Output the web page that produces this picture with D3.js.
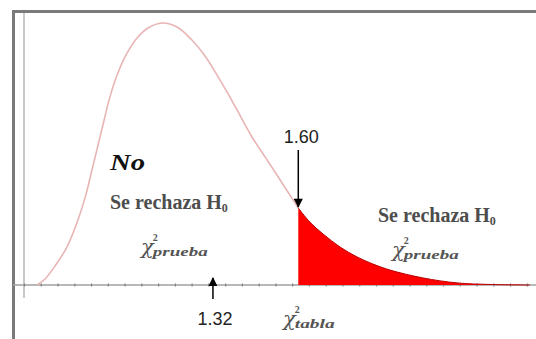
<!DOCTYPE html>
<html>
<head>
<meta charset="utf-8">
<script src="https://cdn.jsdelivr.net/npm/d3@7"></script>
<style>
  body { margin: 0; background: #fff; }
  svg { display: block; }
</style>
</head>
<body>
<svg id="chart" width="536" height="339"></svg>
<script>
// Chi-square density sketch: statistic values on x, relative density on y (peak = 1)
const curveX = [0.743, 0.769, 0.802, 0.841, 0.877, 0.903, 0.923, 0.943, 0.963, 0.982, 1.008, 1.038, 1.071, 1.107, 1.153,
                1.202, 1.251, 1.294, 1.333, 1.366, 1.399, 1.448, 1.491, 1.530, 1.566, 1.600,
                1.638, 1.681, 1.737, 1.793, 1.845, 1.901, 2.009, 2.121, 2.229, 2.360];
const curveY = [0.000, 0.023, 0.073, 0.145, 0.248, 0.344, 0.439, 0.534, 0.630, 0.718, 0.809, 0.885, 0.943, 0.981, 1.000,
                0.985, 0.935, 0.874, 0.802, 0.737, 0.668, 0.565, 0.489, 0.420, 0.355, 0.294,
                0.240, 0.195, 0.145, 0.107, 0.080, 0.057, 0.027, 0.008, 0.002, 0.000];

const testStatistic = 1.32;   // χ² prueba
const criticalValue = 1.60;   // χ² tabla
const xDomain = [0.70, 2.38];
const axisTickStep = 0.055;

const regionLabels = ["No", "Se rechaza", "H", "0"];
const chiSymbol = "χ";
const chiPower = "2";
const chiSubTest = "prueba";
const chiSubTable = "tabla";

const svg = d3.select("#chart");
const W = 536, H = 339;

const x = d3.scaleLinear().domain(xDomain).range([24, 536]);
const y = d3.scaleLinear().domain([0, 1]).range([285, 23]);

const points = curveX.map((v, i) => ({ x: v, y: curveY[i] }));
const leftPart = points.filter(d => d.x <= criticalValue);
const tailPart = points.filter(d => d.x >= criticalValue);
const smooth = d3.curveCatmullRom.alpha(0.5);

// outer frame (top and left edges)
svg.append("path")
  .attr("d", `M13.5,${H} V11.5 H${W}`)
  .attr("fill", "none")
  .attr("stroke", "#7a7a7a")
  .attr("stroke-width", 3);

// vertical axis line
svg.append("line")
  .attr("x1", x(xDomain[0])).attr("x2", x(xDomain[0]))
  .attr("y1", 13).attr("y2", 298)
  .attr("stroke", "#c8c8c8")
  .attr("stroke-width", 2);

// horizontal axis
const axisG = svg.append("g").attr("transform", `translate(0,${y(0)})`);
axisG.append("line")
  .attr("x1", 13).attr("x2", W)
  .attr("stroke", "#a0a0a0")
  .attr("stroke-width", 1.6);
const tickValues = d3.range(xDomain[0], xDomain[1], axisTickStep);
axisG.call(d3.axisBottom(x).tickValues(tickValues).tickSize(2).tickFormat(""));
axisG.select(".domain").remove();
axisG.selectAll(".tick line")
  .attr("y1", -1.5).attr("y2", 1.5)
  .attr("stroke", "#808080")
  .attr("stroke-width", 1.2);

// rejection region
const area = d3.area()
  .x(d => x(d.x))
  .y0(y(0))
  .y1(d => y(d.y))
  .curve(smooth);
svg.append("path")
  .datum(tailPart)
  .attr("d", area)
  .attr("fill", "#ff0000");
svg.append("path")
  .datum(tailPart)
  .attr("d", d3.line().x(d => x(d.x)).y(d => y(d.y)).curve(smooth))
  .attr("fill", "none")
  .attr("stroke", "#b80000")
  .attr("stroke-width", 1);

// density curve (acceptance side)
svg.append("path")
  .datum(leftPart)
  .attr("d", d3.line().x(d => x(d.x)).y(d => y(d.y)).curve(smooth))
  .attr("fill", "none")
  .attr("stroke", "#e9b4b4")
  .attr("stroke-width", 1.6);

// arrow markers
const defs = svg.append("defs");
defs.append("marker")
  .attr("id", "head")
  .attr("viewBox", "0 0 10 10")
  .attr("refX", 9).attr("refY", 5)
  .attr("markerWidth", 6.5).attr("markerHeight", 6)
  .attr("markerUnits", "strokeWidth")
  .attr("orient", "auto")
  .append("path").attr("d", "M0,0 L10,5 L0,10 Z").attr("fill", "#000");

const critIdx = curveX.indexOf(criticalValue);
const critTop = y(curveY[critIdx]);

svg.append("line")
  .attr("x1", x(criticalValue)).attr("x2", x(criticalValue))
  .attr("y1", 150).attr("y2", critTop - 1)
  .attr("stroke", "#000").attr("stroke-width", 1.5)
  .attr("marker-end", "url(#head)");
svg.append("text")
  .attr("x", x(criticalValue) + 3).attr("y", 143)
  .attr("text-anchor", "middle")
  .style("font", "18px 'Liberation Sans', Arial, sans-serif")
  .attr("fill", "#222")
  .text(d3.format(".2f")(criticalValue));

svg.append("line")
  .attr("x1", x(testStatistic)).attr("x2", x(testStatistic))
  .attr("y1", 299).attr("y2", 278)
  .attr("stroke", "#000").attr("stroke-width", 1.5)
  .attr("marker-end", "url(#head)");
svg.append("text")
  .attr("x", x(testStatistic) + 2).attr("y", 325)
  .attr("text-anchor", "middle")
  .style("font", "18px 'Liberation Sans', Arial, sans-serif")
  .attr("fill", "#222")
  .text(d3.format(".2f")(testStatistic));

// region captions
const serif = "'Liberation Serif', 'Times New Roman', serif";
svg.append("text")
  .attr("x", 110).attr("y", 170)
  .attr("textLength", 35).attr("lengthAdjust", "spacingAndGlyphs")
  .style("font", `italic bold 23px ${serif}`)
  .attr("fill", "#111")
  .text(regionLabels[0]);

function rejectCaption(px, py) {
  const t = svg.append("text")
    .attr("x", px).attr("y", py)
    .style("font", `bold 20px ${serif}`)
    .attr("fill", "#4d4d4d");
  t.append("tspan").text(regionLabels[1] + " " + regionLabels[2]);
  t.append("tspan").attr("dy", 3).style("font-size", "12px").text(regionLabels[3]);
}
rejectCaption(110, 209);
rejectCaption(378, 222);

// χ² with a subscript: symbol, then the power raised and the index lowered in the same column
function chiLabel(px, py, sub, subWidth) {
  const t = svg.append("text")
    .attr("x", px).attr("y", py)
    .attr("fill", "#555");
  t.append("tspan")
    .style("font", `italic 21px 'DejaVu Serif', serif`)
    .text(chiSymbol);
  t.append("tspan")
    .attr("dx", -1).attr("dy", -13)
    .style("font", `bold 10px ${serif}`)
    .text(chiPower);
  t.append("tspan")
    .attr("dx", -5).attr("dy", 15)
    .attr("textLength", subWidth).attr("lengthAdjust", "spacingAndGlyphs")
    .style("font", `italic bold 13px ${serif}`)
    .text(sub);
}
chiLabel(141, 254, chiSubTest, 55);
chiLabel(392, 257, chiSubTest, 55);
chiLabel(283, 326, chiSubTable, 40);
</script>
</body>
</html>
